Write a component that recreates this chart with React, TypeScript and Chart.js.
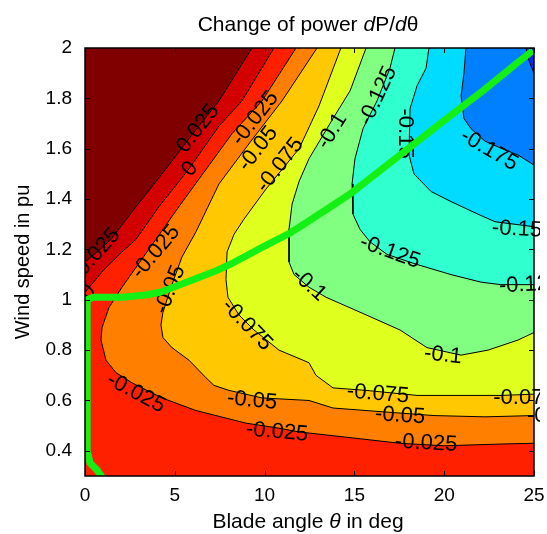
import React, { useEffect, useRef } from "react";
import { Chart, registerables } from "chart.js";
Chart.register(...registerables);

type P = [number, number];

const FONT = "'Liberation Sans', Arial, Helvetica, sans-serif";

const X_MIN = 0;
const X_MAX = 25;
const Y_MIN = 0.3;
const Y_MAX = 2.0;
const xTicks = [0, 5, 10, 15, 20, 25];
const yTicks = [0.4, 0.6, 0.8, 1, 1.2, 1.4, 1.6, 1.8, 2];

// contour levels of dP/dtheta
const levels = [0.025, 0, -0.025, -0.05, -0.075, -0.1, -0.125, -0.15, -0.175, -0.2];

// contour lines (blade angle, wind speed)
const contourP025: P[] = [[9.3, 2.0], [7.46, 1.79], [5.79, 1.64], [4.29, 1.5], [2.73, 1.36], [1.45, 1.24], [0.67, 1.19], [0, 1.15]];
const contour0: P[] = [[10.52, 2.0], [8.74, 1.79], [7.46, 1.69], [5.79, 1.52], [4.12, 1.37], [2.84, 1.24], [2.06, 1.19], [1.06, 1.12], [0, 1.03]];
const contourM025: P[] = [[11.75, 2.0], [9.86, 1.79], [8.19, 1.66], [5.23, 1.37], [3.95, 1.24], [2.06, 1.05], [1.34, 0.97], [0.95, 0.89], [0.89, 0.84], [1.17, 0.76], [1.73, 0.71], [2.62, 0.67], [4.29, 0.61], [6.18, 0.56], [8.96, 0.51], [10.8, 0.49], [11.92, 0.475], [13.81, 0.46], [17.54, 0.43], [19.99, 0.42], [23.16, 0.427], [25, 0.43]];
const contourM050: P[] = [[12.92, 2.0], [10.97, 1.79], [9.24, 1.63], [7.46, 1.46], [6.18, 1.27], [5.4, 1.17], [4.79, 1.05], [4.34, 0.95], [4.23, 0.9], [4.34, 0.85], [4.84, 0.81], [5.79, 0.76], [6.74, 0.69], [7.18, 0.66], [8.02, 0.64], [9.86, 0.61], [12.47, 0.6], [13.81, 0.57], [16.59, 0.555], [19.43, 0.54], [22.27, 0.535], [25, 0.54]];
const contourM075: P[] = [[14.25, 2.0], [13.03, 1.77], [11.92, 1.6], [10.08, 1.44], [8.85, 1.32], [8.3, 1.26], [7.91, 1.19], [7.85, 1.08], [7.96, 1.01], [8.57, 0.94], [9.41, 0.88], [10.8, 0.8], [12.47, 0.75], [12.86, 0.7], [13.81, 0.65], [15.65, 0.64], [18.49, 0.62], [20.38, 0.62], [23.16, 0.62], [25, 0.625]];
const contourM100: P[] = [[15.65, 2.0], [14.76, 1.83], [13.81, 1.72], [12.47, 1.56], [11.92, 1.47], [11.53, 1.38], [11.36, 1.28], [11.36, 1.15], [11.64, 1.1], [12.47, 1.05], [13.42, 1.01], [15.65, 0.94], [17.54, 0.88], [19.04, 0.81], [20.94, 0.78], [22.44, 0.8], [24.11, 0.84], [25, 0.87]];
const contourM125: P[] = [[17.26, 2.0], [16.98, 1.92], [16.26, 1.79], [15.48, 1.68], [15.03, 1.56], [14.87, 1.46], [14.92, 1.34], [15.31, 1.28], [15.87, 1.23], [16.82, 1.18], [18.49, 1.14], [20.38, 1.1], [22.05, 1.07], [23.16, 1.06], [25, 1.06]];
const contourM150: P[] = [[19.15, 2.0], [18.99, 1.92], [18.49, 1.85], [18.1, 1.76], [18.04, 1.575], [18.32, 1.5], [19.27, 1.43], [20.38, 1.39], [21.88, 1.34], [22.83, 1.31], [25, 1.29]];
const contourM175: P[] = [[21.21, 2.0], [21.1, 1.9], [20.94, 1.81], [21.1, 1.72], [21.49, 1.68], [22.27, 1.63], [23.22, 1.6], [24.11, 1.575], [25, 1.535]];
const contourM200: P[] = [[24.55, 2.0], [24.72, 1.95], [25, 1.9]];

const contours = [contourP025, contour0, contourM025, contourM050, contourM075, contourM100, contourM125, contourM150, contourM175, contourM200];

// optimal operating path (green)
const optimalPath: P[] = [[1.0, 0.29], [0.67, 0.324], [0.28, 0.352], [0.12, 0.4], [0.12, 1.0], [0.45, 1.01], [2.12, 1.01], [3.45, 1.02], [4.18, 1.03], [5.29, 1.06], [7.13, 1.11], [8.07, 1.14], [9.91, 1.21], [11.41, 1.265], [11.97, 1.29], [14.76, 1.42], [17.54, 1.575], [20.32, 1.73], [22.16, 1.83], [24.05, 1.94], [24.94, 1.99]];

// band colours from highest to lowest
const bandColors = ["#800000", "#D20000", "#FF2000", "#FF8000", "#FFC800", "#DFFF1F", "#80FF80", "#30FFCF", "#00DCFF", "#0080FF", "#0028FF"];

// inline contour labels: text, data x, data y, angle (deg)
const contourLabels: { t: string; x: number; y: number; a: number }[] = [
  { t: "0.025", x: 6.29, y: 1.68, a: -52 },
  { t: "0", x: 5.85, y: 1.52, a: -52 },
  { t: "-0.025", x: 9.47, y: 1.72, a: -52 },
  { t: "-0.05", x: 9.63, y: 1.6, a: -52 },
  { t: "-0.075", x: 10.86, y: 1.535, a: -52 },
  { t: "0.025", x: 0.72, y: 1.19, a: -48 },
  { t: "0", x: 0.17, y: 1.03, a: -48 },
  { t: "-0.025", x: 3.95, y: 1.19, a: -50 },
  { t: "-0.05", x: 4.73, y: 1.04, a: -68 },
  { t: "-0.075", x: 9.02, y: 0.9, a: 46 },
  { t: "-0.025", x: 2.84, y: 0.63, a: 28 },
  { t: "-0.05", x: 9.3, y: 0.6, a: 6 },
  { t: "-0.025", x: 10.69, y: 0.475, a: 5 },
  { t: "-0.1", x: 12.47, y: 1.06, a: 42 },
  { t: "-0.075", x: 16.31, y: 0.626, a: 5 },
  { t: "-0.05", x: 17.54, y: 0.54, a: 4 },
  { t: "-0.025", x: 18.99, y: 0.43, a: 3 },
  { t: "-0.1", x: 19.93, y: 0.78, a: 6 },
  { t: "-0.125", x: 16.98, y: 1.19, a: 20 },
  { t: "-0.075", x: 24.47, y: 0.61, a: 0 },
  { t: "-0.05", x: 26.0, y: 0.54, a: 0 },
  { t: "-0.125", x: 24.78, y: 1.06, a: -3 },
  { t: "-0.15", x: 24.05, y: 1.28, a: 3 },
  { t: "-0.175", x: 22.5, y: 1.595, a: 30 },
  { t: "-0.15", x: 17.82, y: 1.66, a: 90 },
  { t: "-0.125", x: 16.31, y: 1.81, a: -65 },
  { t: "-0.1", x: 13.75, y: 1.67, a: -58 },
];

const titleSegs = [
  { t: "Change of power ", i: false },
  { t: "d", i: true },
  { t: "P/", i: false },
  { t: "d", i: true },
  { t: "\u03B8", i: false },
];
const xTitleSegs = [
  { t: "Blade angle ", i: false },
  { t: "\u03B8", i: true },
  { t: " in deg", i: false },
];

function drawSegs(ctx: CanvasRenderingContext2D, segs: { t: string; i: boolean }[], cx: number, baseline: number, size: number) {
  const fonts = segs.map((s) => `${s.i ? "italic " : ""}${size}px ${FONT}`);
  let total = 0;
  const widths = segs.map((s, k) => {
    ctx.font = fonts[k];
    const w = ctx.measureText(s.t).width;
    total += w;
    return w;
  });
  let x = cx - total / 2;
  ctx.textAlign = "left";
  ctx.textBaseline = "alphabetic";
  ctx.fillStyle = "#000";
  segs.forEach((s, k) => {
    ctx.font = fonts[k];
    ctx.fillText(s.t, x, baseline);
    x += widths[k];
  });
}

export default function App() {
  const ref = useRef<HTMLCanvasElement>(null);

  useEffect(() => {
    const canvas = ref.current;
    if (!canvas) return;
    const toPts = (a: P[]) => a.map(([x, y]) => ({ x, y }));

    const datasets: any[] = [];
    datasets.push({
      label: "band 0",
      data: toPts([[X_MIN, Y_MIN], [X_MIN, Y_MAX], [X_MAX, Y_MAX], [X_MAX, Y_MIN]]),
      showLine: true,
      fill: "shape",
      backgroundColor: bandColors[0],
      borderColor: "rgba(0,0,0,0)",
      borderWidth: 0,
      pointRadius: 0,
      order: 100,
    });
    contours.forEach((c, i) => {
      const endsLeft = c[c.length - 1][0] === X_MIN;
      const closing: P[] = endsLeft ? [[X_MIN, Y_MIN], [X_MAX, Y_MIN], [X_MAX, Y_MAX]] : [[X_MAX, Y_MAX]];
      datasets.push({
        label: `below ${levels[i]}`,
        data: toPts([...c, ...closing]),
        showLine: true,
        fill: "shape",
        backgroundColor: bandColors[i + 1],
        borderColor: "rgba(0,0,0,0)",
        borderWidth: 0,
        pointRadius: 0,
        order: 90 - i,
      });
    });
    contours.forEach((c, i) => {
      datasets.push({
        label: `contour ${levels[i]}`,
        data: toPts(c),
        showLine: true,
        fill: false,
        borderColor: "#000",
        borderWidth: 1,
        pointRadius: 0,
        order: 2,
      });
    });
    const pathIndex = datasets.length;
    datasets.push({
      label: "path",
      data: toPts(optimalPath),
      showLine: true,
      fill: false,
      borderColor: "#14F014",
      borderWidth: 7,
      borderJoinStyle: "round",
      pointRadius: 0,
      order: 0,
    });

    const labelPlugin = {
      id: "contourLabels",
      beforeDatasetDraw(chart: any, args: any) {
        if (args.index !== pathIndex) return;
        const ctx = chart.ctx as CanvasRenderingContext2D;
        const { left, right, top, bottom } = chart.chartArea;
        const xs = chart.scales.x;
        const ys = chart.scales.y;
        ctx.save();
        ctx.beginPath();
        ctx.rect(left, top, right - left + 6, bottom - top);
        ctx.clip();
        ctx.fillStyle = "#000";
        ctx.font = `22px ${FONT}`;
        ctx.textAlign = "center";
        ctx.textBaseline = "middle";
        for (const l of contourLabels) {
          const px = xs.getPixelForValue(l.x);
          const py = ys.getPixelForValue(l.y);
          ctx.save();
          ctx.translate(px, py);
          ctx.rotate((l.a * Math.PI) / 180);
          ctx.fillText(l.t, 0, 0);
          ctx.restore();
        }
        ctx.restore();
      },
    };

    const framePlugin = {
      id: "frame",
      afterDraw(chart: any) {
        const ctx = chart.ctx as CanvasRenderingContext2D;
        const { left, right, top, bottom } = chart.chartArea;
        const xs = chart.scales.x;
        const ys = chart.scales.y;
        ctx.save();
        ctx.strokeStyle = "#000";
        ctx.lineWidth = 1;
        ctx.beginPath();
        for (const v of xTicks) {
          const px = Math.round(xs.getPixelForValue(v)) + 0.5;
          ctx.moveTo(px, bottom);
          ctx.lineTo(px, bottom - 5);
          ctx.moveTo(px, top);
          ctx.lineTo(px, top + 5);
        }
        for (const v of yTicks) {
          const py = Math.round(ys.getPixelForValue(v)) + 0.5;
          ctx.moveTo(left, py);
          ctx.lineTo(left + 5, py);
          ctx.moveTo(right, py);
          ctx.lineTo(right - 5, py);
        }
        ctx.stroke();
        ctx.lineWidth = 1.5;
        ctx.strokeRect(left, top, right - left, bottom - top);
        drawSegs(ctx, titleSegs, 308, 31, 21);
        drawSegs(ctx, xTitleSegs, 308, 528, 21);
        ctx.restore();
      },
    };

    const chart = new Chart(canvas, {
      type: "scatter",
      data: { datasets },
      options: {
        animation: false,
        responsive: false,
        devicePixelRatio: 1,
        events: [],
        layout: { padding: { top: 48, right: 13, left: 0, bottom: 0 } },
        plugins: { legend: { display: false }, tooltip: { enabled: false }, title: { display: false } },
        scales: {
          x: {
            type: "linear",
            min: X_MIN,
            max: X_MAX,
            afterBuildTicks: (s: any) => {
              s.ticks = xTicks.map((v) => ({ value: v }));
            },
            afterFit: (s: any) => {
              s.height = 58;
              s.paddingLeft = 0;
              s.paddingRight = 0;
            },
            grid: { display: false, drawTicks: false, tickLength: 0 },
            border: { display: false },
            ticks: {
              color: "#000",
              font: { family: FONT, size: 19 },
              padding: 8,
              maxRotation: 0,
              autoSkip: false,
              callback: (v: any) => String(v),
            },
          },
          y: {
            type: "linear",
            min: Y_MIN,
            max: Y_MAX,
            afterBuildTicks: (s: any) => {
              s.ticks = yTicks.map((v) => ({ value: v }));
            },
            afterFit: (s: any) => {
              s.width = 85;
              s.paddingTop = 0;
              s.paddingBottom = 0;
            },
            grid: { display: false, drawTicks: false, tickLength: 0 },
            border: { display: false },
            ticks: {
              color: "#000",
              font: { family: FONT, size: 19 },
              padding: 13,
              autoSkip: false,
              callback: (v: any) => String(Math.round(Number(v) * 10) / 10),
            },
            title: {
              display: true,
              text: "Wind speed in pu",
              color: "#000",
              font: { family: FONT, size: 20 },
              padding: { top: 11, bottom: 0 },
            },
          },
        },
      } as any,
      plugins: [labelPlugin, framePlugin],
    });

    return () => chart.destroy();
  }, []);

  return (
    <div style={{ position: "absolute", left: 0, top: 0, width: 547, height: 534, background: "#fff" }}>
      <canvas ref={ref} width={547} height={534} style={{ width: 547, height: 534, display: "block" }} />
    </div>
  );
}
